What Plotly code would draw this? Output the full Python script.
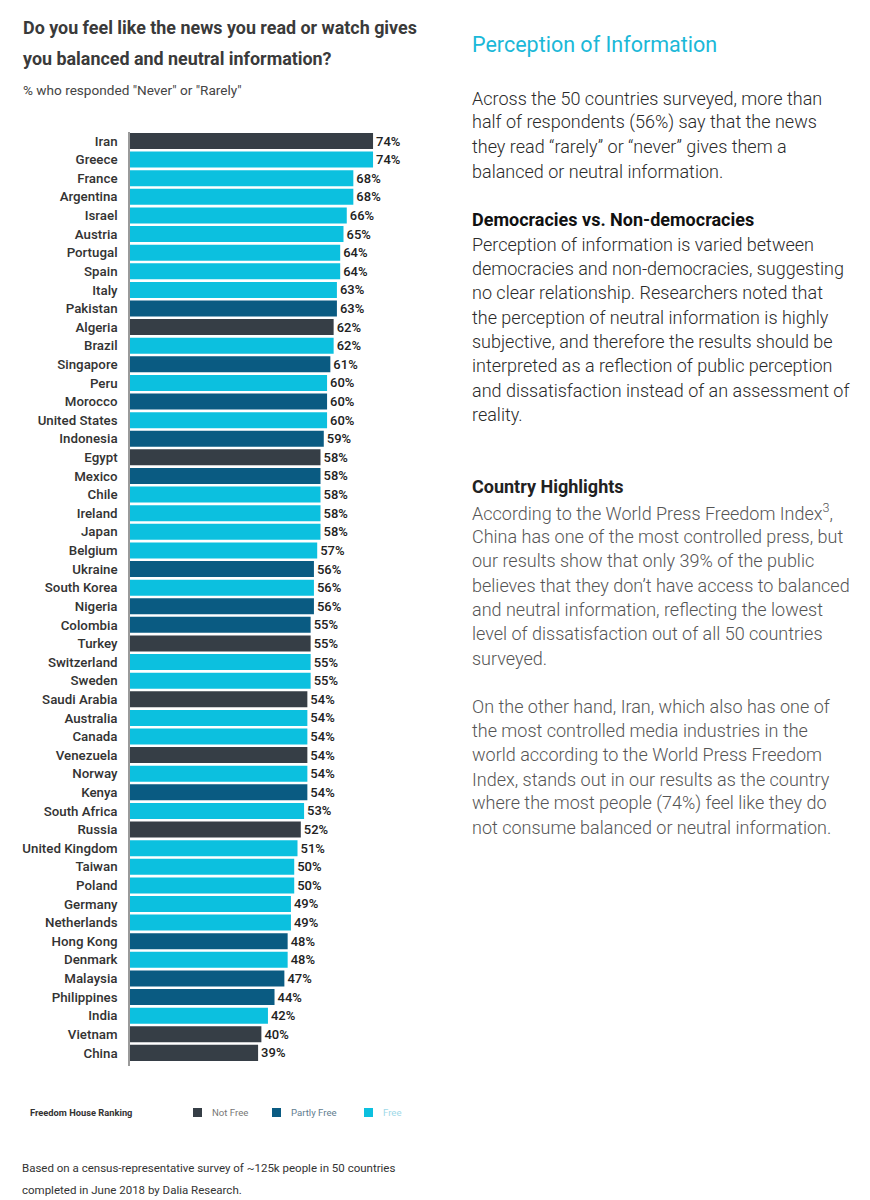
import plotly.graph_objects as go

countries = ["Iran", "Greece", "France", "Argentina", "Israel", "Austria", "Portugal", "Spain",
             "Italy", "Pakistan", "Algeria", "Brazil", "Singapore", "Peru", "Morocco",
             "United States", "Indonesia", "Egypt", "Mexico", "Chile", "Ireland", "Japan",
             "Belgium", "Ukraine", "South Korea", "Nigeria", "Colombia", "Turkey",
             "Switzerland", "Sweden", "Saudi Arabia", "Australia", "Canada", "Venezuela",
             "Norway", "Kenya", "South Africa", "Russia", "United Kingdom", "Taiwan",
             "Poland", "Germany", "Netherlands", "Hong Kong", "Denmark", "Malaysia",
             "Philippines", "India", "Vietnam", "China"]
values = [74, 74, 68, 68, 66, 65, 64, 64, 63, 63, 62, 62, 61, 60, 60, 60, 59, 58, 58, 58,
          58, 58, 57, 56, 56, 56, 55, 55, 55, 55, 54, 54, 54, 54, 54, 54, 53, 52, 51, 50,
          50, 49, 49, 48, 48, 47, 44, 42, 40, 39]
status = ["Not Free", "Free", "Free", "Free", "Free", "Free", "Free", "Free", "Free",
          "Partly Free", "Not Free", "Free", "Partly Free", "Free", "Partly Free", "Free",
          "Partly Free", "Not Free", "Partly Free", "Free", "Free", "Free", "Free",
          "Partly Free", "Free", "Partly Free", "Partly Free", "Not Free", "Free", "Free",
          "Not Free", "Free", "Free", "Not Free", "Free", "Partly Free", "Free", "Not Free",
          "Free", "Free", "Free", "Free", "Free", "Partly Free", "Free", "Partly Free",
          "Partly Free", "Free", "Not Free", "Not Free"]

legend_labels = ["Not Free", "Partly Free", "Free"]
status_colors = {"Not Free": "#363e46", "Partly Free": "#0a5b82", "Free": "#0cc0df"}
legend_text_colors = {"Not Free": "#777777", "Partly Free": "#5f7d90", "Free": "#9ed9e8"}

title_lines = ["Do you feel like the news you read or watch gives",
               "you balanced and neutral information?"]
subtitle = "% who responded \"Never\" or \"Rarely\""
footer_lines = ["Based on a census-representative survey of ~125k people in 50 countries",
                "completed in June 2018 by Dalia Research."]

side_heading = "Perception of Information"
para1 = ["Across the 50 countries surveyed, more than",
         "half of respondents (56%) say that the news",
         "they read “rarely” or “never” gives them a",
         "balanced or neutral information."]
head2 = "Democracies vs. Non-democracies"
para2 = ["Perception of information is varied between",
         "democracies and non-democracies, suggesting",
         "no clear relationship. Researchers noted that",
         "the perception of neutral information is highly",
         "subjective, and therefore the results should be",
         "interpreted as a reflection of public perception",
         "and dissatisfaction instead of an assessment of",
         "reality."]
head3 = "Country Highlights"
para3 = ["According to the World Press Freedom Index<sup>3</sup>,",
         "China has one of the most controlled press, but",
         "our results show that only 39% of the public",
         "believes that they don’t have access to balanced",
         "and neutral information, reflecting the lowest",
         "level of dissatisfaction out of all 50 countries",
         "surveyed."]
para4 = ["On the other hand, Iran, which also has one of",
         "the most controlled media industries in the",
         "world according to the World Press Freedom",
         "Index, stands out in our results as the country",
         "where the most people (74%) feel like they do",
         "not consume balanced or neutral information."]

W, H = 870, 1200
FONT = "Roboto"
FONT_MED = "Roboto Medium, Roboto"


def py(px):
    return 1 - px / H


def px_x(px):
    return px / W


fig = go.Figure()
fig.add_trace(go.Bar(
    x=values, y=countries, orientation="h",
    marker=dict(color=[status_colors[s] for s in status], line=dict(width=0)),
    texttemplate="%{x}%", textposition="outside", cliponaxis=False,
    textfont=dict(family=FONT_MED, size=13, color="#222222"),
    showlegend=False, hoverinfo="skip",
))

annotations = []


def add_text(text, x, y, size, color, weight=400, anchor="left"):
    annotations.append(dict(
        text=text, x=px_x(x), y=py(y), xref="paper", yref="paper",
        xanchor=anchor, yanchor="middle", showarrow=False, borderpad=0,
        font=dict(family=FONT, size=size, color=color, weight=weight),
    ))


# Left header
add_text(title_lines[0], 22, 28, 17.9, "#3a3a3a", 700)
add_text(title_lines[1], 22, 58, 17.9, "#3a3a3a", 700)
add_text(subtitle, 22, 90, 13.6, "#444444", 400)

# Legend
add_text("Freedom House Ranking", 29, 1112, 9.3, "#333333", 700)
shapes = []
leg_sq_x = [193, 272, 364]
for lab, sx in zip(legend_labels, leg_sq_x):
    shapes.append(dict(type="rect", xref="paper", yref="paper",
                       x0=px_x(sx), x1=px_x(sx + 9), y0=py(1117), y1=py(1108),
                       fillcolor=status_colors[lab], line=dict(width=0)))
    add_text(lab, sx + 18, 1112, 9.6, legend_text_colors[lab], 400)

# Footer
add_text(footer_lines[0], 21, 1168, 11.5, "#333333", 400)
add_text(footer_lines[1], 21, 1190, 11.5, "#333333", 400)

# Right column
RX = 471
add_text(side_heading, RX, 45, 21.5, "#1bb8d8", 400)
LS = 24.35
BODY = 18
for i, line in enumerate(para1):
    add_text(line, RX, 98 + i * LS, BODY, "#2a2a2a", 300)
add_text(head2, RX, 219, BODY, "#111111", 700)
for i, line in enumerate(para2):
    add_text(line, RX, 244 + i * LS, BODY, "#2a2a2a", 300)
add_text(head3, RX, 487, BODY, "#222222", 700)
for i, line in enumerate(para3):
    add_text(line, RX, 512 + i * LS, BODY, "#555555", 300)
for i, line in enumerate(para4):
    add_text(line, RX, 706 + i * LS, BODY, "#555555", 300)

fig.update_layout(
    width=W, height=H, margin=dict(l=0, r=0, t=0, b=0),
    paper_bgcolor="white", plot_bgcolor="white",
    bargap=0.14, showlegend=False,
    annotations=annotations, shapes=shapes,
    xaxis=dict(domain=[130 / W, 425.6 / W], range=[0, 90], showgrid=False,
               zeroline=False, showticklabels=False, showline=False, fixedrange=True),
    yaxis=dict(domain=[py(1065.9), py(131.7)], range=[49.7, -0.5], type="category",
               showgrid=False, zeroline=False, showline=True, linecolor="#9a9a9a",
               linewidth=1.5, ticks="outside", ticklen=8, tickcolor="rgba(0,0,0,0)",
               tickfont=dict(family=FONT_MED, size=13.3, color="#333333")),
)

fig.write_html("out.html")
